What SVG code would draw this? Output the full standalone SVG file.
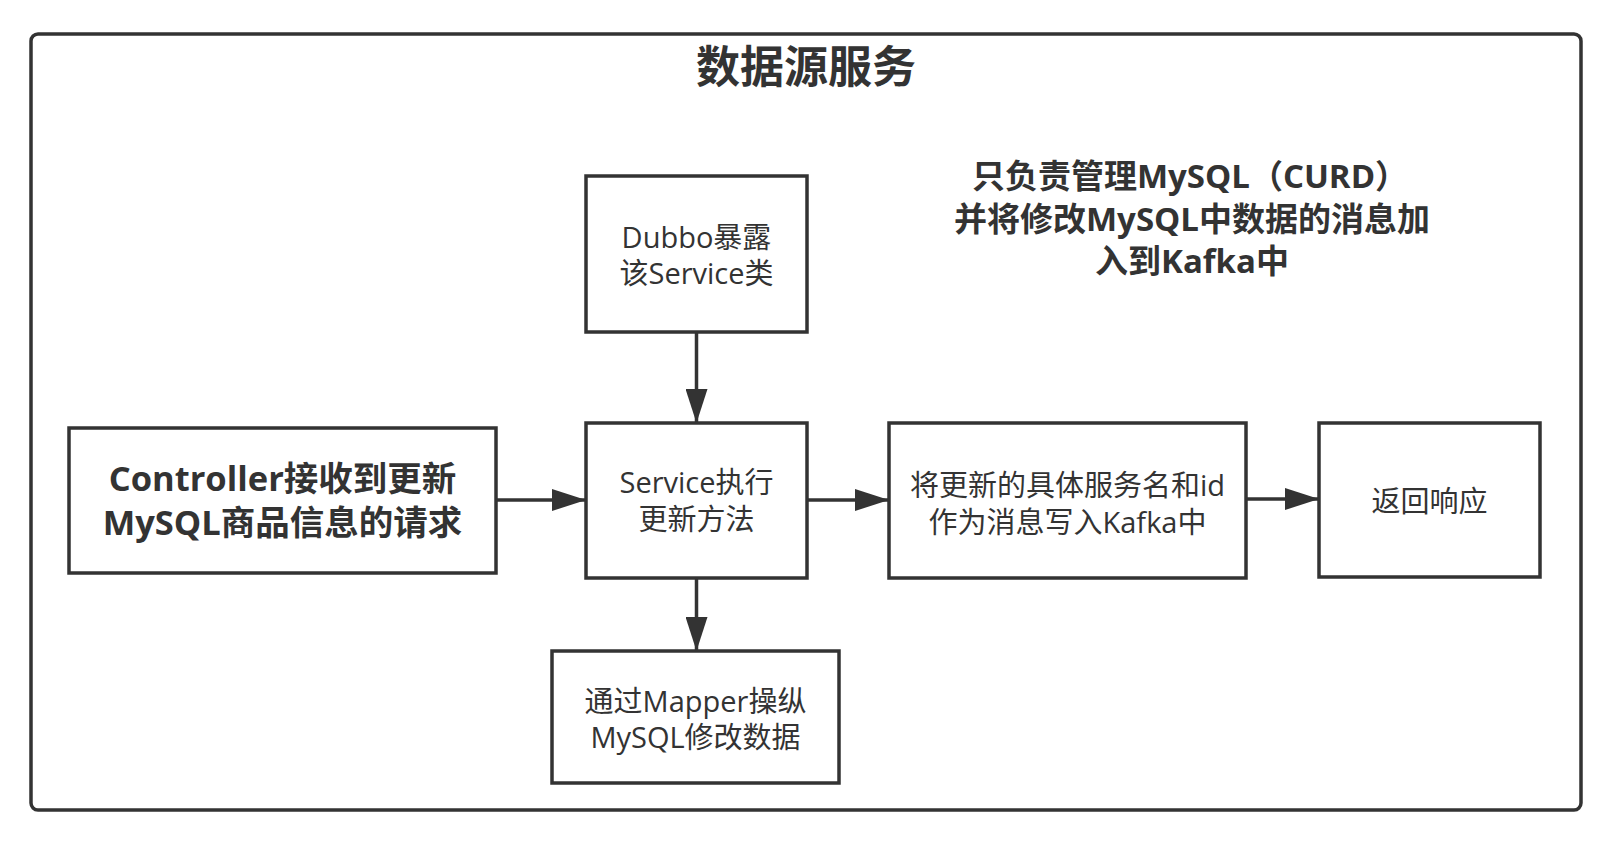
<svg xmlns="http://www.w3.org/2000/svg" width="1612" height="848" viewBox="0 0 1612 848">
<style>
.box{fill:#fff;stroke:#333;stroke-width:3.5;}
.t{font-family:"Open Sans","Noto Sans CJK SC",sans-serif;font-size:29px;fill:#333;text-anchor:middle;}
.b{font-family:"Open Sans","Noto Sans CJK SC",sans-serif;font-weight:bold;fill:#333;text-anchor:middle;}
.c{stroke:#333;stroke-width:3.5;fill:none;marker-end:url(#ah);}
</style>
<defs>
<marker id="ah" markerUnits="userSpaceOnUse" markerWidth="34" markerHeight="22" refX="33" refY="11" orient="auto">
<path d="M0,0 L34,11 L0,22 Z" fill="#333"/>
</marker>
</defs>
<rect width="1612" height="848" fill="#fff"/>
<g id="frame">
<rect x="31" y="34" width="1550" height="776" rx="7" fill="none" stroke="#333" stroke-width="3.5"/>
<text class="b" x="806" y="83" font-size="44">数据源服务</text>
</g>
<g id="note">
<text class="b" x="1190" y="188" font-size="33">只负责管理MySQL（CURD）</text>
<text class="b" x="1192" y="231" font-size="33">并将修改MySQL中数据的消息加</text>
<text class="b" x="1192" y="273" font-size="33">入到Kafka中</text>
</g>
<g id="connectors">
<line class="c" x1="696.5" y1="332" x2="696.5" y2="422"/>
<line class="c" x1="496" y1="500" x2="585" y2="500"/>
<line class="c" x1="807" y1="500" x2="888" y2="500"/>
<line class="c" x1="1246" y1="499" x2="1318" y2="499"/>
<line class="c" x1="696.5" y1="578" x2="696.5" y2="650"/>
</g>
<g id="dubbo">
<rect class="box" x="586" y="176" width="221" height="156"/>
<text class="t" x="696.5" y="248">Dubbo暴露</text>
<text class="t" x="696.5" y="284">该Service类</text>
</g>
<g id="controller">
<rect class="box" x="69" y="428" width="427" height="145"/>
<text class="b" x="282.5" y="491" font-size="34.5">Controller接收到更新</text>
<text class="b" x="282.5" y="535" font-size="34.5">MySQL商品信息的请求</text>
</g>
<g id="service">
<rect class="box" x="586" y="423" width="221" height="155"/>
<text class="t" x="696.5" y="493">Service执行</text>
<text class="t" x="696.5" y="530">更新方法</text>
</g>
<g id="kafka">
<rect class="box" x="889" y="423" width="357" height="155"/>
<text class="t" x="1067.5" y="496">将更新的具体服务名和id</text>
<text class="t" x="1067.5" y="533">作为消息写入Kafka中</text>
</g>
<g id="response">
<rect class="box" x="1319" y="423" width="221" height="154"/>
<text class="t" x="1429.5" y="512">返回响应</text>
</g>
<g id="mapper">
<rect class="box" x="552" y="651" width="287" height="132"/>
<text class="t" x="695.5" y="712">通过Mapper操纵</text>
<text class="t" x="695.5" y="748">MySQL修改数据</text>
</g>
</svg>
